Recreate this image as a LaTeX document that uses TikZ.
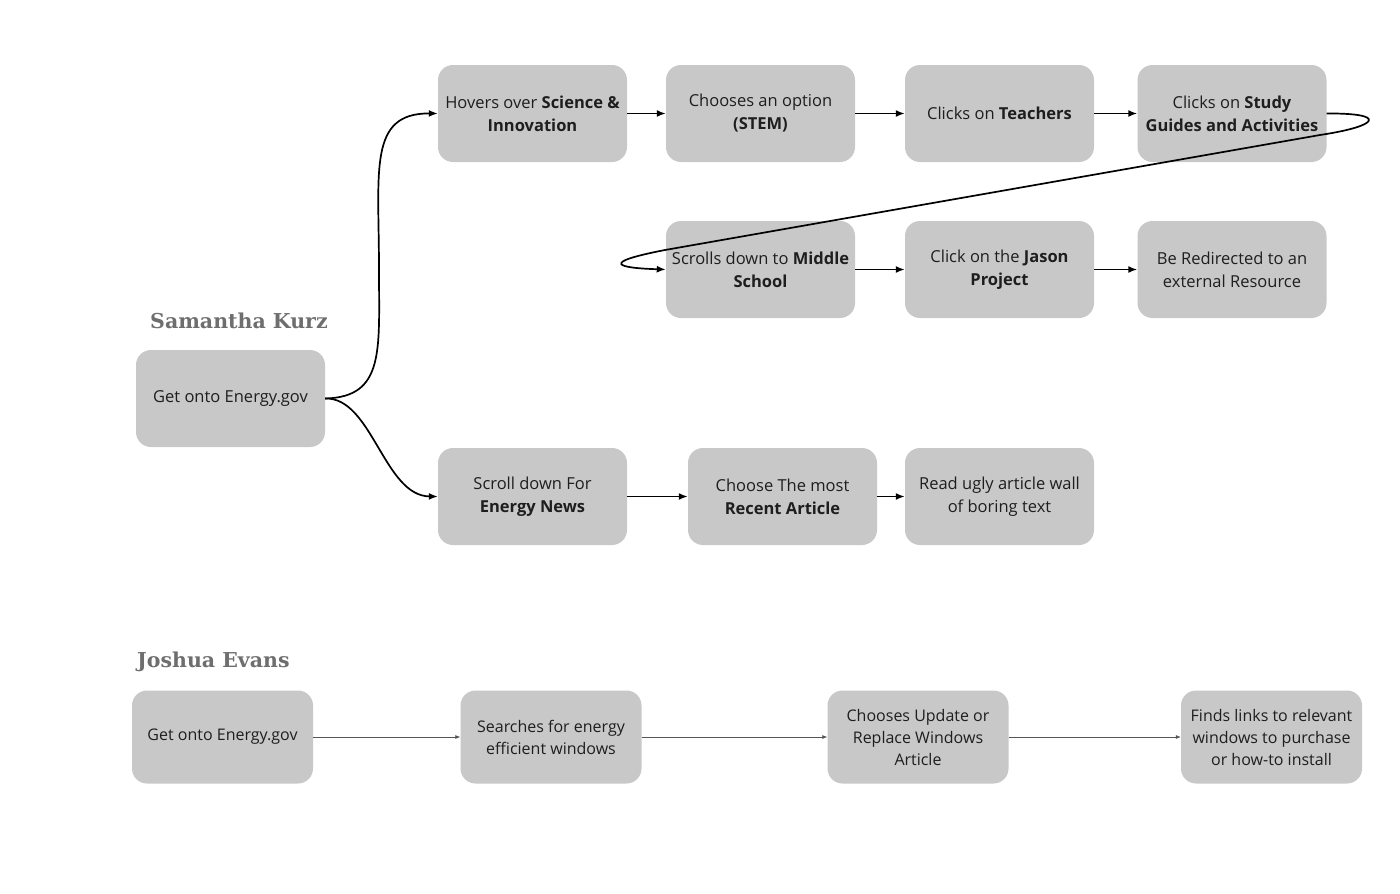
\documentclass[tikz,border=0pt]{standalone}
\usepackage{fontspec}
\setmainfont{Open Sans}
\newfontfamily\headfont{DejaVu Serif}
\usetikzlibrary{arrows.meta}
\definecolor{boxgray}{HTML}{C8C8C8}
\definecolor{txt}{HTML}{1E1E1E}
\definecolor{headgray}{HTML}{6E6E6E}
\definecolor{thinline}{HTML}{555555}
\tikzset{
  box/.style={rectangle, rounded corners=15pt, fill=boxgray, draw=none,
    minimum width=189pt, minimum height=97pt, align=center, text=txt,
    font=\fontsize{16.5}{23}\selectfont, inner sep=0pt},
  jbox/.style={box, minimum width=181pt, minimum height=93pt, font=\fontsize{16}{22}\selectfont},
  head/.style={font=\headfont\bfseries\fontsize{20.5}{26}\selectfont, text=headgray, anchor=west, inner sep=0pt},
  flow/.style={line width=1.7pt, -{Latex[length=9pt,width=7pt]}},
  jflow/.style={line width=0.7pt, draw=thinline, -{Latex[length=5pt,width=4pt]}}
}
\begin{document}
\begin{tikzpicture}[x=1pt,y=-1pt]
\useasboundingbox (0,0) rectangle (1400,894);
\fill[white] (0,0) rectangle (1400,894);

% Samantha
\node[head] (hs) at (150,321) {Samantha Kurz};
\node[box] (s0) at (230.5,398.5) {Get onto Energy.gov};

\node[box] (a1) at (532.5,113.5) {Hovers over \textbf{Science \&}\\\textbf{Innovation}};
\node[box] (a2) at (760.5,113.5) {Chooses an option\\\textbf{(STEM)}};
\node[box] (a3) at (999.5,113.5) {Clicks on \textbf{Teachers}};
\node[box] (a4) at (1232,113.5) {Clicks on \textbf{Study}\\\textbf{Guides and Activities}};

\node[box] (b1) at (760.5,269.5) {Scrolls down to \textbf{Middle}\\\textbf{School}};
\node[box] (b2) at (999.5,269.5) {Click on the \textbf{Jason}\\\textbf{Project}};
\node[box] (b3) at (1232,269.5) {Be Redirected to an\\external Resource};

\node[box] (c1) at (532.5,496.5) {Scroll down For\\\textbf{Energy News}};
\node[box] (c2) at (782.5,496.5) {Choose The most\\\textbf{Recent Article}};
\node[box] (c3) at (999.5,496.5) {Read ugly article wall\\of boring text};

\draw[flow] (s0.east) .. controls (385,397) and (379,350) .. (379,270)
  .. controls (379,170) and (368,113) .. (a1.west);
\draw[flow] (s0.east) .. controls (372,397) and (384,496) .. (c1.west);
\draw[flow] (a1) -- (a2);
\draw[flow] (a2) -- (a3);
\draw[flow] (a3) -- (a4);
\draw[flow] (a4.east) .. controls (1388,113) and (1380,126) .. (1320,135)
  -- (665,250) .. controls (598,263) and (618,268) .. (b1.west);
\draw[flow] (b1) -- (b2);
\draw[flow] (b2) -- (b3);
\draw[flow] (c1) -- (c2);
\draw[flow] (c2) -- (c3);

% Joshua
\node[head] (hj) at (137,662) {Joshua Evans};
\node[jbox] (j1) at (222.5,737) {Get onto Energy.gov};
\node[jbox] (j2) at (551,737) {Searches for energy\\efficient windows};
\node[jbox] (j3) at (918,737) {Chooses Update or\\Replace Windows\\Article};
\node[jbox] (j4) at (1271.5,737) {Finds links to relevant\\windows to purchase\\or how-to install};
\draw[jflow] (j1) -- (j2);
\draw[jflow] (j2) -- (j3);
\draw[jflow] (j3) -- (j4);
\end{tikzpicture}
\end{document}
